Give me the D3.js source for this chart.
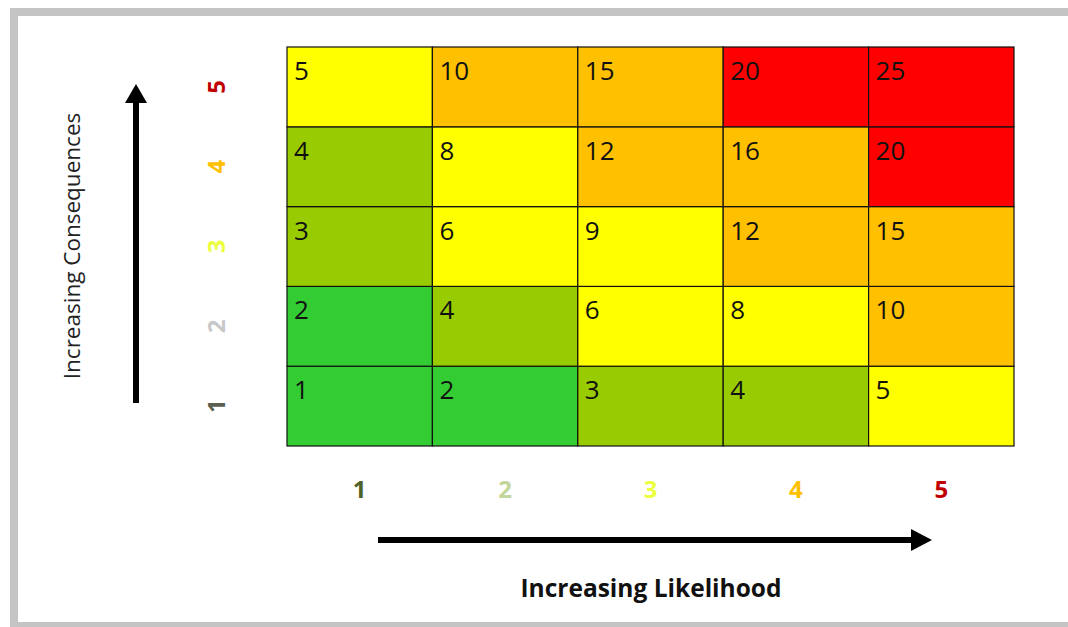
<!DOCTYPE html>
<html>
<head>
<meta charset="utf-8">
<script src="https://cdn.jsdelivr.net/npm/d3@7"></script>
<style>
  html, body { margin: 0; padding: 0; background: #ffffff; }
  svg { display: block; }
</style>
</head>
<body>
<svg id="chart" width="1068" height="627"></svg>
<script>
// ---- data ----
const likelihood = [1, 2, 3, 4, 5];
const consequences = [1, 2, 3, 4, 5];
// risk score rows, from consequence 5 (top) to consequence 1 (bottom)
const row5 = [5, 10, 15, 20, 25];
const row4 = [4, 8, 12, 16, 20];
const row3 = [3, 6, 9, 12, 15];
const row2 = [2, 4, 6, 8, 10];
const row1 = [1, 2, 3, 4, 5];
const scoreRows = [row1, row2, row3, row4, row5]; // index = consequence - 1
const levelBreaks = [3, 5, 10, 20];
const levelColors = ["#33cc33", "#99cc00", "#ffff00", "#ffc000", "#ff0000"];
const xLabelColors = ["#4f6228", "#c3d69b", "#ecff3c", "#ffc000", "#c00000"];
const yLabelColors = ["#5b5f50", "#c8c8c8", "#ecff3c", "#ffc000", "#c00000"];
const xTitle = "Increasing Likelihood";
const yTitle = "Increasing Consequences";

// ---- layout ----
const svg = d3.select("#chart");
const grid = { left: 287, right: 1014, top: 47, bottom: 446 };

const x = d3.scaleBand().domain(likelihood).range([grid.left, grid.right]).padding(0);
const y = d3.scaleBand().domain(consequences.slice().reverse()).range([grid.top, grid.bottom]).padding(0);
const color = d3.scaleThreshold().domain(levelBreaks).range(levelColors);

// frame
svg.append("rect")
  .attr("x", 14).attr("y", 12).attr("width", 1100).attr("height", 614)
  .attr("fill", "none").attr("stroke", "#c4c4c4").attr("stroke-width", 8);

// cells
const cells = [];
consequences.forEach(c => {
  likelihood.forEach((l, i) => {
    cells.push({ l, c, v: scoreRows[c - 1][i] });
  });
});

const g = svg.append("g");
g.selectAll("rect.cell").data(cells).enter().append("rect")
  .attr("class", "cell")
  .attr("x", d => x(d.l)).attr("y", d => y(d.c))
  .attr("width", x.bandwidth()).attr("height", y.bandwidth())
  .attr("fill", d => color(d.v))
  .attr("stroke", "#111").attr("stroke-width", 1.2);

g.selectAll("text.val").data(cells).enter().append("text")
  .attr("class", "val")
  .attr("x", d => x(d.l) + 7).attr("y", d => y(d.c) + 33)
  .attr("font-family", "'Open Sans', sans-serif")
  .attr("font-size", 26)
  .attr("fill", "#111")
  .text(d => d.v);

// x tick labels
svg.selectAll("text.xl").data(likelihood).enter().append("text")
  .attr("class", "xl")
  .attr("x", d => x(d) + x.bandwidth() / 2)
  .attr("y", 498)
  .attr("text-anchor", "middle")
  .attr("font-family", "'Open Sans', sans-serif")
  .attr("font-weight", "bold")
  .attr("font-size", 24)
  .attr("fill", (d, i) => xLabelColors[i])
  .text(d => d);

// y tick labels (rotated)
svg.selectAll("text.yl").data(consequences).enter().append("text")
  .attr("class", "yl")
  .attr("transform", d => `translate(225, ${y(d) + y.bandwidth() / 2}) rotate(-90)`)
  .attr("text-anchor", "middle")
  .attr("font-family", "'Open Sans', sans-serif")
  .attr("font-weight", "bold")
  .attr("font-size", 24)
  .attr("fill", (d, i) => yLabelColors[i])
  .text(d => d);

// arrows
// vertical arrow
const ax = 136;
svg.append("line").attr("x1", ax).attr("x2", ax).attr("y1", 403).attr("y2", 100)
  .attr("stroke", "#000").attr("stroke-width", 6);
svg.append("path")
  .attr("d", `M${ax - 11},103 L${ax},84 L${ax + 11},103 Z`).attr("fill", "#000");
// horizontal arrow
const ay = 540;
svg.append("line").attr("x1", 378).attr("x2", 914).attr("y1", ay).attr("y2", ay)
  .attr("stroke", "#000").attr("stroke-width", 6);
svg.append("path")
  .attr("d", `M911,${ay - 11} L932,${ay} L911,${ay + 11} Z`).attr("fill", "#000");

// titles
svg.append("text")
  .attr("x", 651).attr("y", 597)
  .attr("text-anchor", "middle")
  .attr("font-family", "'Open Sans', sans-serif")
  .attr("font-weight", "bold")
  .attr("font-size", 24.5)
  .attr("fill", "#111")
  .text(xTitle);

svg.append("text")
  .attr("transform", "translate(80, 246) rotate(-90)")
  .attr("text-anchor", "middle")
  .attr("font-family", "'Open Sans', sans-serif")
  .attr("font-size", 22.5)
  .attr("fill", "#222")
  .text(yTitle);
</script>
</body>
</html>
